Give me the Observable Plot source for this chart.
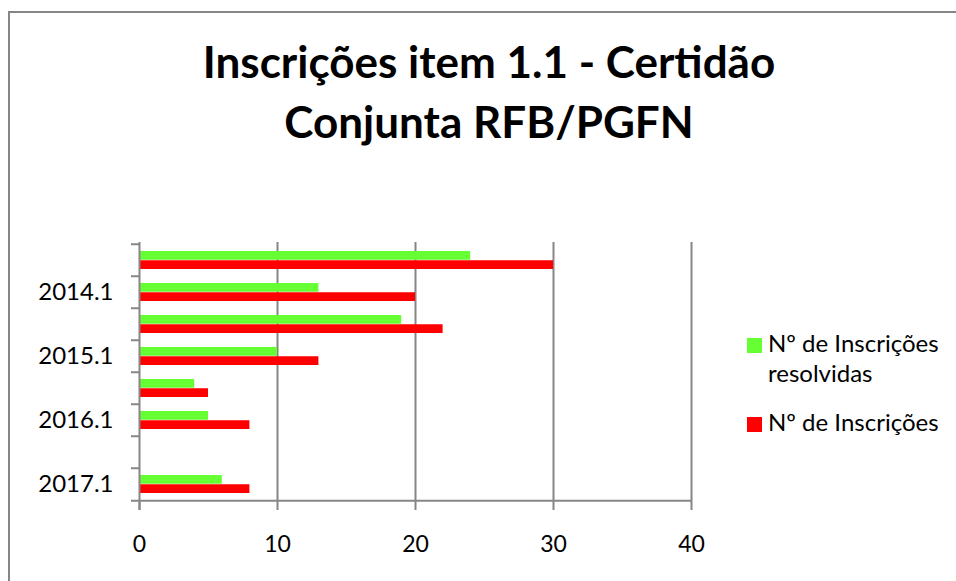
<!DOCTYPE html>
<html>
<head>
<meta charset="utf-8">
<script src="https://cdn.jsdelivr.net/npm/d3@7"></script>
<script src="https://cdn.jsdelivr.net/npm/@observablehq/plot@0.6"></script>
<style>
  html, body { margin: 0; padding: 0; background: #fff; }
  #wrap { position: relative; width: 956px; height: 581px; overflow: hidden; font-family: Lato, "Open Sans", sans-serif; }
  #border { position: absolute; left: 8px; top: 11px; width: 1000px; height: 1000px; border-top: 2px solid #868686; border-left: 2px solid #868686; }
  #chart { position: absolute; left: 0; top: 0; }
  #title { position: absolute; left: 9px; width: 960px; top: 31px; text-align: center; font-weight: bold; font-size: 44px; line-height: 60px; color: #000; }
  .leg { position: absolute; left: 747px; font-size: 24px; color: #000; line-height: 30px; }
  .sw { position: absolute; left: 0; width: 15px; height: 15px; }
  .lt { position: absolute; left: 21px; white-space: nowrap; }
</style>
</head>
<body>
<div id="wrap">
  <div id="border"></div>
  <div id="chart"></div>
  <div id="title">Inscrições item 1.1 - Certidão<br>Conjunta RFB/PGFN</div>
  <div class="leg" style="top:337px"><div class="sw" style="top:1px;background:#66FF33"></div><div class="lt" style="top:-9px">Nº de Inscrições<br>resolvidas</div></div>
  <div class="leg" style="top:416px"><div class="sw" style="top:1px;background:#FF0000"></div><div class="lt" style="top:-9px">Nº de Inscrições</div></div>
</div>
<script>
const categories = ["2013.2", "2014.1", "2014.2", "2015.1", "2015.2", "2016.1", "2016.2", "2017.1"];
const labeledCategories = ["2014.1", "2015.1", "2016.1", "2017.1"];
const resolvidas = [24, 13, 19, 10, 4, 5, null, 6];
const inscricoes = [30, 20, 22, 13, 5, 8, null, 8];
const xTicks = [0, 10, 20, 30, 40];
const seriesNames = ["Nº de Inscrições resolvidas", "Nº de Inscrições"];

const dataRes = categories.map((c, i) => ({cat: c, value: resolvidas[i], series: seriesNames[0]})).filter(d => d.value != null);
const dataIns = categories.map((c, i) => ({cat: c, value: inscricoes[i], series: seriesNames[1]})).filter(d => d.value != null);

const marginTop = 242, marginBottom = 79, marginLeft = 139, marginRight = 265;
const H = 581;
const band = (H - marginTop - marginBottom) / categories.length;
const axisColor = "#868686";

const chart = Plot.plot({
  width: 956,
  height: H,
  marginTop, marginBottom, marginLeft, marginRight,
  style: {background: "none", fontFamily: "Lato, 'Open Sans', sans-serif", color: "#000"},
  x: {domain: [0, 40], ticks: xTicks, label: null},
  y: {domain: categories, padding: 0, label: null},
  marks: [
    Plot.ruleX(xTicks.slice(1), {stroke: axisColor, strokeWidth: 2}),
    Plot.barX(dataRes, {x: "value", y: "cat", fill: "#66FF33", insetTop: 7, insetBottom: band / 2}),
    Plot.barX(dataIns, {x: "value", y: "cat", fill: "#FF0000", insetTop: band / 2, insetBottom: 7}),
    Plot.ruleX([0], {stroke: axisColor, strokeWidth: 2, insetBottom: -8}),
    Plot.ruleY(categories, {y: d => d, dy: -band / 2, x1: 0, x2: 0, insetLeft: -8, stroke: axisColor, strokeWidth: 2}),
    Plot.ruleY([categories[categories.length - 1]], {y: d => d, dy: band / 2, x1: 0, x2: 40, insetLeft: -8, stroke: axisColor, strokeWidth: 2}),
    Plot.axisY({ticks: labeledCategories, tickSize: 0, tickPadding: 26, fontSize: 24, label: null, fill: "#000"}),
    Plot.axisX({ticks: xTicks, tickSize: 8, tickPadding: 25, fontSize: 23, label: null, stroke: axisColor, strokeWidth: 2, fill: "#000"})
  ]
});
document.getElementById("chart").appendChild(chart);
</script>
</body>
</html>
